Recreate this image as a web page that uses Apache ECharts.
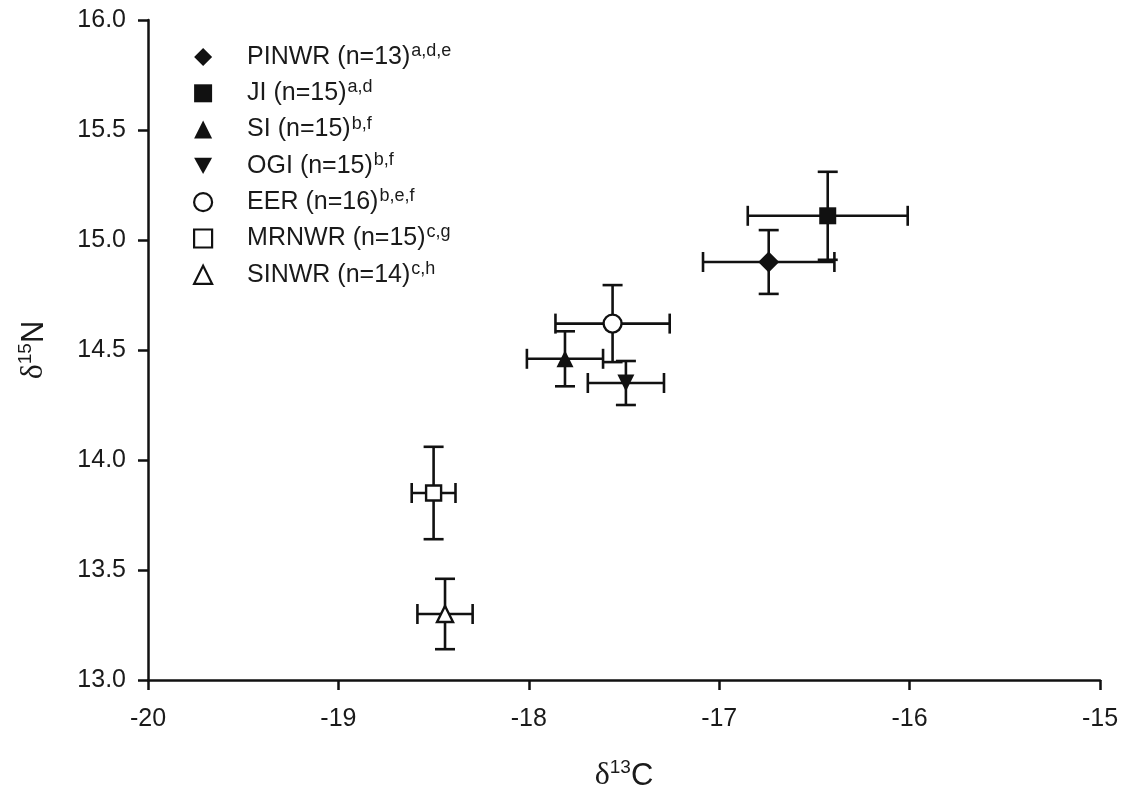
<!DOCTYPE html>
<html>
<head>
<meta charset="utf-8">
<script src="https://cdn.jsdelivr.net/npm/echarts@6/dist/echarts.min.js"></script>
<style>
  html, body { margin: 0; padding: 0; background: #fff; overflow: hidden; }
  #chart { width: 1121px; height: 793px; }
</style>
</head>
<body>
<div id="chart"></div>
<script>
// Site groups and their stable-isotope means with error ranges
const sites = ['PINWR', 'JI', 'SI', 'OGI', 'EER', 'MRNWR', 'SINWR'];
const sampleN = [13, 15, 15, 15, 16, 15, 14];
const letters = ['a,d,e', 'a,d', 'b,f', 'b,f', 'b,e,f', 'c,g', 'c,h'];
const d13C = [-16.74, -16.43, -17.81, -17.49, -17.56, -18.50, -18.44];
const d15N = [14.90, 15.11, 14.46, 14.35, 14.62, 13.85, 13.30];
const errC = [0.345, 0.42, 0.20, 0.20, 0.30, 0.115, 0.145];
const errN = [0.145, 0.20, 0.125, 0.10, 0.175, 0.21, 0.16];
const xTicks = [-20, -19, -18, -17, -16, -15];
const yTicks = [13.0, 13.5, 14.0, 14.5, 15.0, 15.5, 16.0];

const symbols = ['diamond', 'rect', 'triangle', 'path://M0,0 L10,0 L5,9 Z', 'circle', 'rect', 'triangle'];
const symbolSizes = [21, 17, 17, 17, 18, 15, 16];
const hollow = [false, false, false, false, true, true, true];

const FONT = '"Liberation Sans", Arial, sans-serif';
const SERIF = '"Liberation Serif", "Times New Roman", serif';
const INK = '#111';
const TEXT = '#1a1a1a';

const chart = echarts.init(document.getElementById('chart'));

// Error bars: horizontal and vertical whiskers with end caps
const errorSeries = {
  type: 'custom',
  silent: true,
  z: 2,
  data: sites.map((s, i) => [d13C[i], d15N[i], errC[i], errN[i]]),
  renderItem: function (params, api) {
    const x = api.value(0), y = api.value(1), ex = api.value(2), ey = api.value(3);
    const L = api.coord([x - ex, y]);
    const R = api.coord([x + ex, y]);
    const T = api.coord([x, y + ey]);
    const B = api.coord([x, y - ey]);
    const cap = 10;
    const style = { stroke: INK, lineWidth: 2.6, fill: null };
    const line = (x1, y1, x2, y2) => ({ type: 'line', shape: { x1, y1, x2, y2 }, style });
    return {
      type: 'group',
      children: [
        line(L[0], L[1], R[0], R[1]),
        line(L[0], L[1] - cap, L[0], L[1] + cap),
        line(R[0], R[1] - cap, R[0], R[1] + cap),
        line(T[0], T[1], B[0], B[1]),
        line(T[0] - cap, T[1], T[0] + cap, T[1]),
        line(B[0] - cap, B[1], B[0] + cap, B[1])
      ]
    };
  }
};

const pointSeries = sites.map((s, i) => ({
  name: s,
  type: 'scatter',
  z: 5,
  symbol: symbols[i],
  symbolSize: symbolSizes[i],
  itemStyle: hollow[i]
    ? { color: '#fff', borderColor: INK, borderWidth: 2.4, opacity: 1 }
    : { color: INK, borderColor: INK, borderWidth: 0, opacity: 1 },
  data: [[d13C[i], d15N[i]]]
}));

const titleRich = {
  d: { fontFamily: SERIF, fontSize: 32, color: TEXT, lineHeight: 36 },
  s: { fontFamily: FONT, fontSize: 19, color: TEXT, lineHeight: 20, verticalAlign: 'top' },
  c: { fontFamily: FONT, fontSize: 31, color: TEXT, lineHeight: 36 }
};

chart.setOption({
  animation: false,
  backgroundColor: '#fff',
  grid: { left: 148, right: 21, top: 20, bottom: 113, containLabel: false, outerBoundsMode: 'none' },
  legend: {
    orient: 'vertical',
    left: 188,
    top: 37,
    itemWidth: 18,
    itemHeight: 18,
    itemGap: 8.8,
    selectedMode: false,
    data: sites.map((s, i) => ({
      name: s,
      icon: symbols[i],
      itemStyle: hollow[i]
        ? { color: '#fff', borderColor: INK, borderWidth: 2.2 }
        : { color: INK, borderWidth: 0 }
    })),
    formatter: function (name) {
      const i = sites.indexOf(name);
      return '{t|' + name + ' (n=' + sampleN[i] + ')}{s|' + letters[i] + '}';
    },
    textStyle: {
      padding: [0, 0, 0, 30],
      rich: {
        t: { fontFamily: FONT, fontSize: 25, color: TEXT, lineHeight: 30 },
        s: { fontFamily: FONT, fontSize: 18, color: TEXT, lineHeight: 18, verticalAlign: 'top', padding: [0, 0, 0, 1] }
      }
    }
  },
  xAxis: {
    type: 'value',
    min: xTicks[0],
    max: xTicks[xTicks.length - 1],
    interval: 1,
    name: '{d|δ}{s|13}{c|C}',
    nameLocation: 'middle',
    nameGap: 78,
    nameTextStyle: { rich: titleRich },
    axisLine: { show: true, onZero: false, lineStyle: { color: INK, width: 2.5 } },
    axisTick: { show: true, inside: false, length: 10, lineStyle: { color: INK, width: 2.5 } },
    axisLabel: { fontFamily: FONT, fontSize: 25, color: TEXT, margin: 27 },
    splitLine: { show: false }
  },
  yAxis: {
    type: 'value',
    min: yTicks[0],
    max: yTicks[yTicks.length - 1],
    interval: 0.5,
    name: '{d|δ}{s|15}{c|N}',
    nameLocation: 'middle',
    nameRotate: 90,
    nameGap: 96,
    nameTextStyle: { rich: titleRich },
    axisLine: { show: true, onZero: false, lineStyle: { color: INK, width: 2.5 } },
    axisTick: { show: true, inside: false, length: 10, lineStyle: { color: INK, width: 2.5 } },
    axisLabel: {
      fontFamily: FONT, fontSize: 25, color: TEXT, margin: 22,
      formatter: v => v.toFixed(1)
    },
    splitLine: { show: false }
  },
  series: [errorSeries].concat(pointSeries)
});
</script>
</body>
</html>
